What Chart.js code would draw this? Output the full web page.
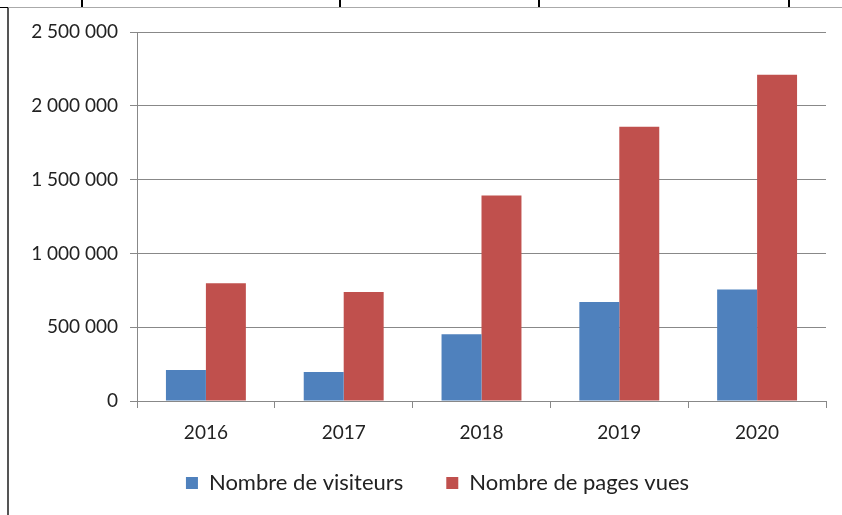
<!DOCTYPE html>
<html>
<head>
<meta charset="utf-8">
<script src="https://cdn.jsdelivr.net/npm/chart.js@4"></script>
<style>
  body { margin: 0; background: #fff; width: 842px; height: 515px; position: relative; overflow: hidden; }
  #frame { position: absolute; left: 7px; top: 7px; width: 840px; height: 510px;
           border-left: 2px solid #555; border-top: 1px solid #aaa; background: #fff; }
  .tl { position: absolute; background: #000; }
  #wrap { position: absolute; left: 9px; top: 8px; width: 833px; height: 507px; }
</style>
</head>
<body>
<div id="frame"></div>
<div class="tl" style="left:0;top:7px;width:8px;height:1px"></div>
<div class="tl" style="left:81px;top:0;width:2px;height:7px"></div>
<div class="tl" style="left:339px;top:0;width:2px;height:7px"></div>
<div class="tl" style="left:538px;top:0;width:2px;height:7px"></div>
<div class="tl" style="left:788px;top:0;width:2px;height:7px"></div>
<div id="wrap"><canvas id="myChart"></canvas></div>
<script>
var years = ['2016', '2017', '2018', '2019', '2020'];
var visiteurs = [210000, 197000, 452000, 670000, 755000];
var pagesVues = [798000, 738000, 1392000, 1858000, 2210000];
var yTicks = [0, 500000, 1000000, 1500000, 2000000, 2500000];

function formatNombre(v) {
  return v.toString().replace(/\B(?=(\d{3})+(?!\d))/g, ' ');
}

// axis boxes are forced to fixed sizes, so let their labels draw outside them
function noLabelClip(scale) {
  scale._computeLabelArea = function() { return undefined; };
}

function printBars() {
  var ctx = document.getElementById('myChart').getContext('2d');
  var myChart = new Chart(ctx, {
    type: 'bar',
    data: {
      labels: years,
      datasets: [{
        label: 'Nombre de visiteurs',
        data: visiteurs,
        backgroundColor: '#4F81BD',
        borderWidth: 0
      }, {
        label: 'Nombre de pages vues',
        data: pagesVues,
        backgroundColor: '#C0504D',
        borderWidth: 0
      }]
    },
    options: {
      responsive: true,
      maintainAspectRatio: false,
      animation: false,
      categoryPercentage: 0.58,
      barPercentage: 1.0,
      layout: { padding: { left: 40, right: 16, top: 24, bottom: 11 } },
      plugins: {
        legend: {
          position: 'bottom',
          labels: {
            boxWidth: 12,
            boxHeight: 12,
            padding: 43,
            color: '#222',
            font: { family: 'Lato', size: 22 }
          }
        },
        tooltip: { enabled: false }
      },
      scales: {
        x: {
          afterFit: function(scale) {
            scale.height = 28;
            noLabelClip(scale);
          },
          grid: { offset: true, drawOnChartArea: false, color: '#888', tickLength: 7 },
          border: { color: '#888' },
          ticks: { color: '#222', padding: 13, font: { family: 'Lato', size: 19 } }
        },
        y: {
          min: 0,
          max: 2500000,
          afterFit: function(scale) {
            scale.width = 88;
            noLabelClip(scale);
          },
          afterBuildTicks: function(axis) {
            axis.ticks = yTicks.map(function(v) { return { value: v }; });
          },
          grid: { color: '#888', tickLength: 7 },
          border: { color: '#888' },
          ticks: {
            color: '#222',
            padding: 12,
            font: { family: 'Lato', size: 19 },
            callback: function(v) { return formatNombre(v); }
          }
        }
      }
    }
  });
}

function init() {
  printBars();
}

document.addEventListener('DOMContentLoaded', init);
</script>
</body>
</html>
